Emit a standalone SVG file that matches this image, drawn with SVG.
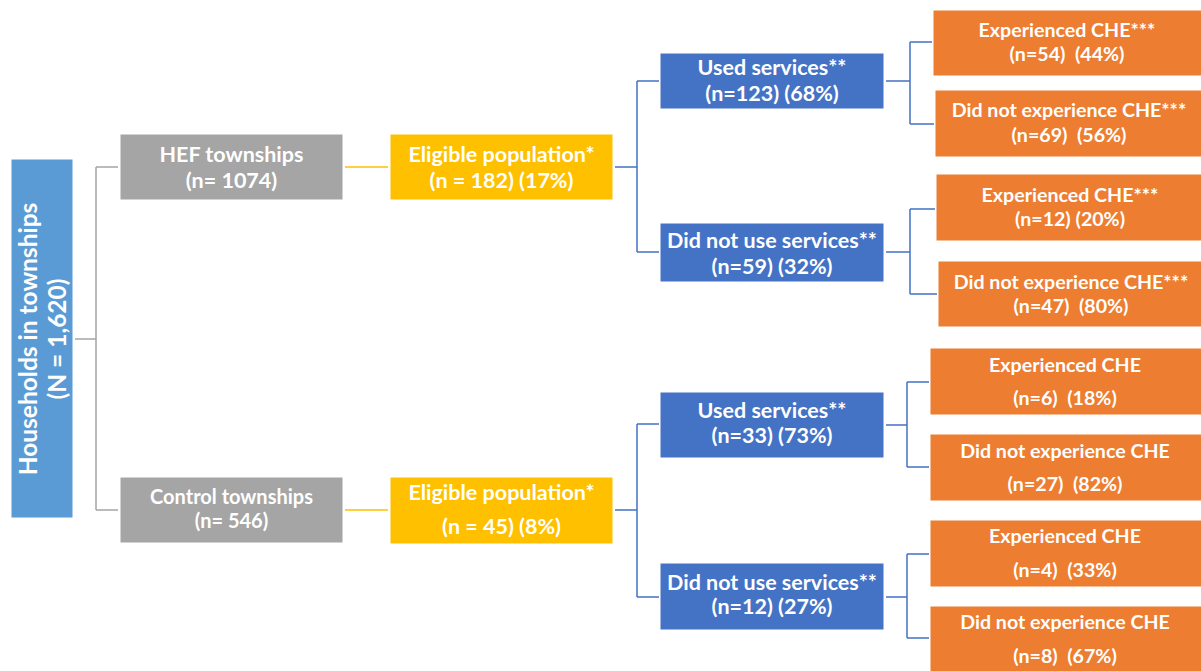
<svg xmlns="http://www.w3.org/2000/svg" width="1201" height="671" viewBox="0 0 1201 671">
  <style>
    text { font-family: Lato, "Open Sans", "Liberation Sans", sans-serif; font-weight: bold; fill: #ffffff; text-anchor: middle; font-size: 21.5px; }
    .root { fill: #5B9BD5; }
    .grey { fill: #A5A5A5; }
    .gold { fill: #FFC000; }
    .blue { fill: #4472C4; }
    .orange { fill: #ED7D31; }
    .box { stroke: #ffffff; stroke-width: 1; }
    .big { font-size: 24.5px; }
    .md { font-size: 20px; }
    .sm { font-size: 19.6px; }
    .c-grey { stroke: #A5A5A5; stroke-width: 1.5; fill: none; }
    .c-gold { stroke: #FFC000; stroke-width: 1.5; fill: none; }
    .c-blue { stroke: #4472C4; stroke-width: 1.5; fill: none; }
  </style>
  <rect width="1201" height="671" fill="#ffffff"/>

  <!-- connectors -->
  <g id="connectors">
    <path class="c-grey" d="M75 339 H96 M96 167 V510 M96 167 H118 M96 510 H118"/>
    <path class="c-gold" d="M345 167 H388 M345 510 H388"/>
    <path class="c-blue" d="M615 167 H637 M637 81 V252 M637 81 H659 M637 252 H659"/>
    <path class="c-blue" d="M615 510 H637 M637 424 V597 M637 424 H659 M637 597 H659"/>
    <path class="c-blue" d="M886 81 H910 M910 42 V124 M910 42 H932 M910 124 H934"/>
    <path class="c-blue" d="M886 252 H910 M910 209 V294 M910 209 H935 M910 294 H937"/>
    <path class="c-blue" d="M886 425 H907 M907 382 V467 M907 382 H929 M907 467 H929"/>
    <path class="c-blue" d="M886 597 H907 M907 554 V638 M907 554 H929 M907 638 H929"/>
  </g>

  <!-- level 0 -->
  <g id="households">
    <rect class="root box" x="11" y="159" width="62" height="359"/>
    <text class="big" transform="translate(36.5,339) rotate(-90)">Households in townships</text>
    <text class="big" transform="translate(66,339) rotate(-90)">(N = 1,620)</text>
  </g>

  <!-- level 1 -->
  <g id="hef-townships">
    <rect class="grey box" x="120" y="134" width="223" height="66"/>
    <text x="231.5" y="162">HEF townships</text>
    <text x="231.5" y="188">(n= 1074)</text>
  </g>
  <g id="control-townships">
    <rect class="grey box" x="120" y="477" width="223" height="66"/>
    <text class="md" x="231.5" y="504">Control townships</text>
    <text class="md" x="231.5" y="528">(n= 546)</text>
  </g>

  <!-- level 2 -->
  <g id="hef-eligible">
    <rect class="gold box" x="390" y="134" width="223" height="66"/>
    <text x="501.5" y="162">Eligible population*</text>
    <text x="501.5" y="188">(n = 182) (17%)</text>
  </g>
  <g id="control-eligible">
    <rect class="gold box" x="390" y="477" width="223" height="67"/>
    <text x="501.5" y="500">Eligible population*</text>
    <text x="501.5" y="534">(n = 45) (8%)</text>
  </g>

  <!-- level 3 -->
  <g id="hef-used">
    <rect class="blue box" x="660" y="53" width="224" height="56"/>
    <text x="772" y="75">Used services**</text>
    <text x="772" y="101">(n=123) (68%)</text>
  </g>
  <g id="hef-not-used">
    <rect class="blue box" x="660" y="223" width="224" height="59"/>
    <text x="772" y="248">Did not use services**</text>
    <text x="772" y="274">(n=59) (32%)</text>
  </g>
  <g id="control-used">
    <rect class="blue box" x="660" y="392" width="224" height="66"/>
    <text x="772" y="418">Used services**</text>
    <text x="772" y="443">(n=33) (73%)</text>
  </g>
  <g id="control-not-used">
    <rect class="blue box" x="660" y="563" width="224" height="67"/>
    <text x="772" y="590">Did not use services**</text>
    <text x="772" y="614">(n=12) (27%)</text>
  </g>

  <!-- level 4 -->
  <g id="hef-used-che">
    <rect class="orange box" x="933" y="10" width="270" height="66"/>
    <text class="sm" x="1067" y="37">Experienced CHE***</text>
    <text class="sm" x="1067" y="61" xml:space="preserve">(n=54)  (44%)</text>
  </g>
  <g id="hef-used-no-che">
    <rect class="orange box" x="935" y="90" width="268" height="67"/>
    <text class="sm" x="1069" y="117">Did not experience CHE***</text>
    <text class="sm" x="1069" y="142" xml:space="preserve">(n=69)  (56%)</text>
  </g>
  <g id="hef-notused-che">
    <rect class="orange box" x="936" y="174" width="267" height="67"/>
    <text class="sm" x="1070" y="202">Experienced CHE***</text>
    <text class="sm" x="1070" y="226">(n=12) (20%)</text>
  </g>
  <g id="hef-notused-no-che">
    <rect class="orange box" x="938" y="261" width="265" height="66"/>
    <text class="sm" x="1071" y="289">Did not experience CHE***</text>
    <text class="sm" x="1071" y="313" xml:space="preserve">(n=47)  (80%)</text>
  </g>
  <g id="control-used-che">
    <rect class="orange box" x="930" y="348" width="273" height="67"/>
    <text class="sm" x="1065" y="372">Experienced CHE</text>
    <text class="sm" x="1065" y="405" xml:space="preserve">(n=6)  (18%)</text>
  </g>
  <g id="control-used-no-che">
    <rect class="orange box" x="930" y="434" width="273" height="67"/>
    <text class="sm" x="1065" y="458">Did not experience CHE</text>
    <text class="sm" x="1065" y="491" xml:space="preserve">(n=27)  (82%)</text>
  </g>
  <g id="control-notused-che">
    <rect class="orange box" x="930" y="520" width="273" height="67"/>
    <text class="sm" x="1065" y="543">Experienced CHE</text>
    <text class="sm" x="1065" y="577" xml:space="preserve">(n=4)  (33%)</text>
  </g>
  <g id="control-notused-no-che">
    <rect class="orange box" x="930" y="606" width="273" height="67"/>
    <text class="sm" x="1065" y="629">Did not experience CHE</text>
    <text class="sm" x="1065" y="663" xml:space="preserve">(n=8)  (67%)</text>
  </g>
</svg>
